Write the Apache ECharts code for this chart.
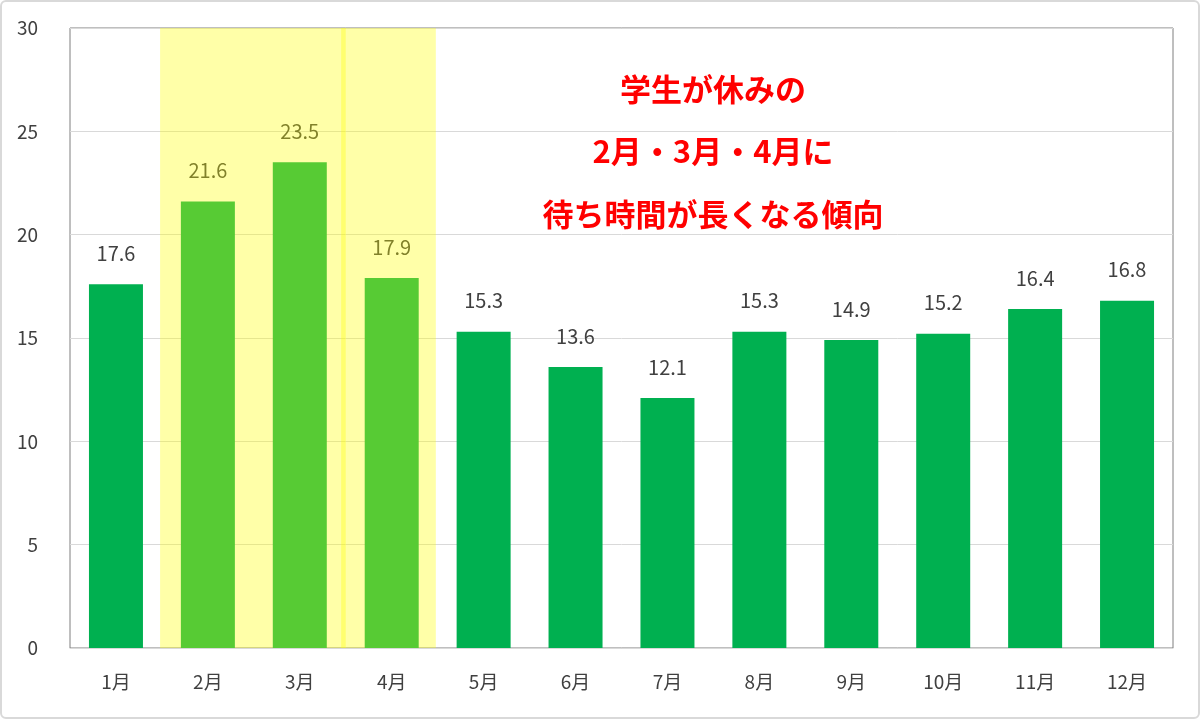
<!DOCTYPE html>
<html>
<head>
<meta charset="utf-8">
<title>月別待ち時間</title>
<script src="https://cdn.jsdelivr.net/npm/echarts@6/dist/echarts.min.js"></script>
<style>
	html, body { margin: 0; padding: 0; background: #fff; }
	#chart {
		width: 1200px; height: 719px; box-sizing: border-box;
		border: 2px solid #d9d9d9; border-radius: 6px;
	}
</style>
</head>
<body>
<div id="chart"></div>
<script>
var months = ['1月', '2月', '3月', '4月', '5月', '6月', '7月', '8月', '9月', '10月', '11月', '12月'];
var waitTimes = [17.6, 21.6, 23.5, 17.9, 15.3, 13.6, 12.1, 15.3, 14.9, 15.2, 16.4, 16.8];
var yTicks = [0, 5, 10, 15, 20, 25, 30];
// 強調する期間（月の位置, 0 = 1月の左端）
var highlightSpans = [[0.98, 3.0], [2.95, 3.98]];
var noteLines = ['学生が休みの', '2月・3月・4月に', '待ち時間が長くなる傾向'];

var font = '"Noto Sans CJK JP", "Noto Sans", sans-serif';
var textGray = '#404040';

var chart = echarts.init(document.getElementById('chart'), null, { renderer: 'canvas' });

var noteText = noteLines.map(function (line, i) {
	return {
		type: 'text',
		x: 711, y: 87 + i * 62.5,
		style: {
			text: line,
			fill: '#ff0000',
			font: 'bold 31px ' + font,
			textAlign: 'center',
			textVerticalAlign: 'middle'
		},
		z: 20
	};
});

chart.setOption({
	animation: false,
	textStyle: { fontFamily: font },
	grid: {
		left: 68, right: 25, top: 26, bottom: 69,
		show: true,
		borderColor: '#7f7f7f',
		borderWidth: 1
	},
	xAxis: [{
		type: 'category',
		data: months,
		axisLine: { lineStyle: { color: '#d9d9d9', width: 1 } },
		axisTick: { length: 9, lineStyle: { color: '#d9d9d9' } },
		axisLabel: { color: textGray, fontSize: 19, margin: 24, fontFamily: font }
	}, {
		type: 'value',
		min: 0, max: 12,
		show: false
	}],
	yAxis: {
		type: 'value',
		min: yTicks[0],
		max: yTicks[yTicks.length - 1],
		interval: yTicks[1] - yTicks[0],
		axisLine: { show: false },
		axisTick: { show: false },
		splitLine: { lineStyle: { color: '#d9d9d9' } },
		axisLabel: { color: textGray, fontSize: 19, margin: 32, fontFamily: font }
	},
	series: [{
		type: 'bar',
		data: waitTimes,
		barWidth: 54,
		itemStyle: { color: '#00b050' },
		label: {
			show: true,
			position: 'top',
			distance: 21,
			color: textGray,
			fontSize: 20,
			fontFamily: font,
			formatter: function (p) { return p.value.toFixed(1); }
		}
	}, {
		type: 'line',
		xAxisIndex: 1,
		data: [],
		silent: true,
		clip: false,
		z: 10,
		markArea: {
			silent: true,
			z: 10,
			itemStyle: { color: 'rgba(255, 255, 0, 0.34)' },
			data: [
				[{ xAxis: highlightSpans[0][0], yAxis: 30 }, { xAxis: highlightSpans[0][1], yAxis: -0.25 }],
				[{ xAxis: highlightSpans[1][0], yAxis: 30.2 }, { xAxis: highlightSpans[1][1], yAxis: 0 }]
			]
		}
	}],
	graphic: noteText
});
</script>
</body>
</html>
